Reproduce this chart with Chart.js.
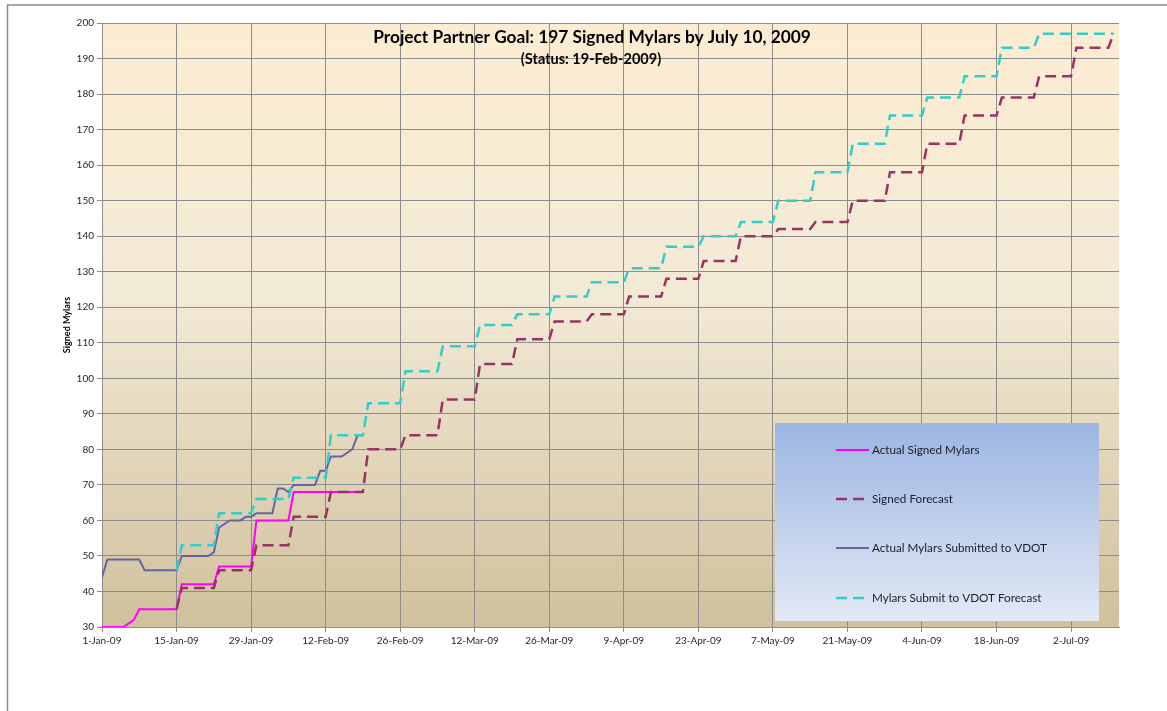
<!DOCTYPE html>
<html lang="en">
<head>
  <meta charset="UTF-8" />
  <title>Project Partner Goal - Signed Mylars</title>
  <script src="https://cdn.jsdelivr.net/npm/chart.js"></script>
  <style>
    html, body { margin: 0; padding: 0; background: #fff; }
    canvas { display: block; }
  </style>
</head>
<body>
  <canvas id="grafico" width="1167" height="711"></canvas>

  <script>
    // days counted from 1-Jan-2009
    const actualSignedDays = [0, 4, 6, 7, 14, 15, 21, 22, 28, 29, 35, 36, 49];
    const actualSignedVals = [30, 30, 32, 35, 35, 42, 42, 47, 47, 60, 60, 68, 68];

    const actualSubmittedDays = [0, 1, 7, 8, 14, 15, 20, 21, 22, 24, 26, 27, 28, 29, 32, 33, 34, 35, 36, 40, 41, 42, 43, 45, 47, 48, 49];
    const actualSubmittedVals = [44, 49, 49, 46, 46, 50, 50, 51, 58, 60, 60, 61, 61, 62, 62, 69, 69, 68, 70, 70, 74, 74, 78, 78, 80, 84, 84];

    // forecast levels: each level holds from its day until the next one starts
    const signedForecastDays = [14, 15, 22, 29, 36, 43, 50, 57, 64, 71, 78, 85, 92, 99, 106, 113, 120, 127, 134, 141, 148, 155, 162, 169, 176, 183, 190];
    const signedForecastVals = [35, 41, 46, 53, 61, 68, 80, 84, 94, 104, 111, 116, 118, 123, 128, 133, 140, 142, 144, 150, 158, 166, 174, 179, 185, 193, 197];

    const submitForecastDays = [14, 15, 22, 29, 36, 43, 50, 57, 64, 71, 78, 85, 92, 99, 106, 113, 120, 127, 134, 141, 148, 155, 162, 169, 176];
    const submitForecastVals = [46, 53, 62, 66, 72, 84, 93, 102, 109, 115, 118, 123, 127, 131, 137, 140, 144, 150, 158, 166, 174, 179, 185, 193, 197];

    const lastDay = 190;
    const axisMaxDay = 191;
    const meses = ['Jan', 'Feb', 'Mar', 'Apr', 'May', 'Jun', 'Jul', 'Aug', 'Sep', 'Oct', 'Nov', 'Dec'];

    function pontos(dias, valores) {
      return dias.map((d, i) => ({ x: d, y: valores[i] }));
    }

    function degraus(dias, valores) {
      const out = [];
      dias.forEach((d, i) => {
        const fim = i < dias.length - 1 ? dias[i + 1] - 1 : lastDay;
        out.push({ x: d, y: valores[i] });
        if (fim > d) out.push({ x: fim, y: valores[i] });
      });
      return out;
    }

    function formatarData(dia) {
      const dt = new Date(2009, 0, 1 + dia);
      return dt.getDate() + '-' + meses[dt.getMonth()] + '-09';
    }

    const fundoPlot = {
      id: 'fundoPlot',
      beforeDraw(chart) {
        const { ctx, chartArea: a } = chart;
        ctx.save();
        // outer frame
        ctx.strokeStyle = '#8a8a8a';
        ctx.lineWidth = 1.5;
        ctx.beginPath();
        ctx.moveTo(chart.width, 5);
        ctx.lineTo(7.5, 5);
        ctx.lineTo(7.5, chart.height);
        ctx.stroke();
        const g = ctx.createLinearGradient(0, a.top, 0, a.bottom);
        g.addColorStop(0, '#fcedd2');
        g.addColorStop(0.45, '#f3ead6');
        g.addColorStop(1, '#d0c09c');
        ctx.fillStyle = g;
        ctx.fillRect(a.left, a.top, a.right - a.left, a.bottom - a.top);
        ctx.restore();
      }
    };

    const textos = {
      id: 'textos',
      afterDraw(chart) {
        const { ctx } = chart;
        ctx.save();
        ctx.fillStyle = '#000';
        ctx.textAlign = 'center';
        ctx.textBaseline = 'middle';
        ctx.font = 'bold 17.3px Lato';
        ctx.fillText('Project Partner Goal: 197 Signed Mylars by July 10, 2009', 592, 37);
        ctx.font = 'bold 14.5px Lato';
        ctx.fillText('(Status: 19-Feb-2009)', 591, 59);

        // legend box
        const bx = 775, by = 423, bw = 324, bh = 198;
        const g = ctx.createLinearGradient(0, by, 0, by + bh);
        g.addColorStop(0, '#9bb5e2');
        g.addColorStop(1, '#e3e9f5');
        ctx.fillStyle = g;
        ctx.fillRect(bx, by, bw, bh);

        const linhas = [450, 499, 548, 598];
        ctx.textAlign = 'left';
        ctx.font = '11.7px Lato';
        chart.data.datasets.forEach((ds, i) => {
          const y = linhas[i];
          ctx.strokeStyle = ds.borderColor;
          ctx.lineWidth = ds.borderWidth;
          ctx.setLineDash(ds.borderDash || []);
          ctx.beginPath();
          ctx.moveTo(836, y);
          ctx.lineTo(869, y);
          ctx.stroke();
          ctx.setLineDash([]);
          ctx.fillStyle = '#1c1c28';
          ctx.fillText(ds.label, 872, y);
        });
        ctx.restore();
      }
    };

    const ctxGrafico = document.getElementById('grafico').getContext('2d');

    new Chart(ctxGrafico, {
      type: 'line',
      data: {
        datasets: [
          {
            label: 'Actual Signed Mylars',
            data: pontos(actualSignedDays, actualSignedVals),
            borderColor: '#ff00ff',
            borderWidth: 2,
            order: 4,
          },
          {
            label: 'Signed Forecast',
            data: degraus(signedForecastDays, signedForecastVals),
            borderColor: '#993366',
            borderWidth: 2.5,
            borderDash: [11, 6],
            order: 3,
          },
          {
            label: 'Actual Mylars Submitted to VDOT',
            data: pontos(actualSubmittedDays, actualSubmittedVals),
            borderColor: '#6464a2',
            borderWidth: 2,
            order: 2,
          },
          {
            label: 'Mylars Submit to VDOT Forecast',
            data: degraus(submitForecastDays, submitForecastVals),
            borderColor: '#33cccc',
            borderWidth: 2.5,
            borderDash: [11, 6],
            order: 1,
          },
        ],
      },
      options: {
        responsive: false,
        animation: false,
        layout: {
          padding: { top: 23, right: 48, left: 0, bottom: 0 },
        },
        elements: {
          point: { radius: 0 },
          line: { tension: 0, fill: false },
        },
        scales: {
          x: {
            type: 'linear',
            min: 0,
            max: axisMaxDay,
            afterBuildTicks(scale) {
              scale.ticks = scale.ticks.filter(t => t.value % 14 === 0);
            },
            afterFit(scale) {
              scale.height = 84;
            },
            ticks: {
              stepSize: 14,
              color: '#262626',
              padding: 3,
              maxRotation: 0,
              font: { family: 'Lato', size: 10 },
              callback: v => formatarData(v),
            },
            grid: {
              color: '#8c8c8c',
              tickLength: 5,
            },
            border: { color: '#8c8c8c' },
          },
          y: {
            min: 30,
            max: 200,
            afterFit(scale) {
              scale.width = 102;
            },
            ticks: {
              stepSize: 10,
              color: '#262626',
              padding: 3,
              font: { family: 'Lato', size: 10 },
            },
            grid: {
              color: '#8c8c8c',
              tickLength: 5,
            },
            border: { color: '#8c8c8c' },
            title: {
              display: true,
              text: 'Signed Mylars',
              color: '#000',
              padding: { top: 62, bottom: 0 },
              font: { family: 'Lato', size: 9, weight: 'bold' },
            },
          },
        },
        plugins: {
          legend: { display: false },
          tooltip: { enabled: false },
        },
      },
      plugins: [fundoPlot, textos],
    });
  </script>
</body>
</html>
